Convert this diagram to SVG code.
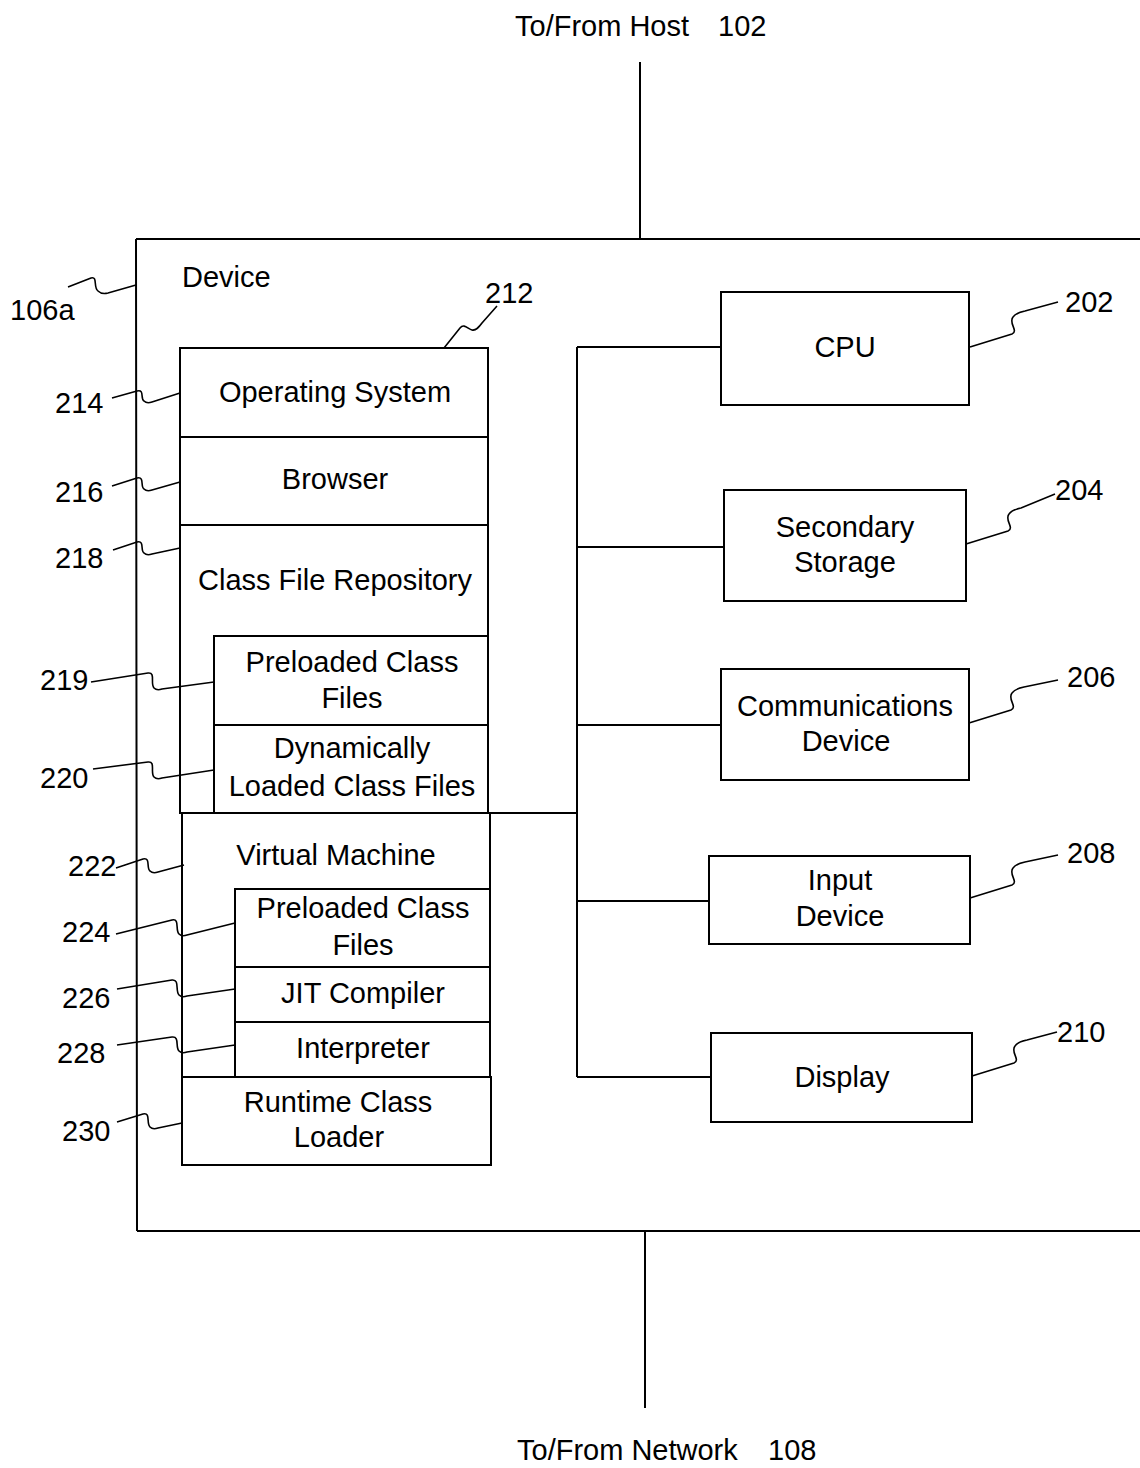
<svg xmlns="http://www.w3.org/2000/svg" width="1140" height="1468" viewBox="0 0 1140 1468">
<style>
text{font-family:"Liberation Sans",Arial,sans-serif;font-size:29px;fill:#000}
.c{text-anchor:middle}
.box{fill:none;stroke:#000;stroke-width:2}
.ln{fill:none;stroke:#000;stroke-width:2}
.ld{fill:none;stroke:#000;stroke-width:1.6}
</style>
<rect width="1140" height="1468" fill="#fff"/>

<g id="device">
<path class="ln" d="M136,239 L1140,239 M136,239 L137,1231 M137,1231 L1140,1231"/>
<text x="182" y="287">Device</text>
<text x="10" y="320">106a</text>
</g>

<g id="host-label"><text x="515" y="36">To/From Host</text><text x="718" y="36">102</text></g>
<g id="network-label"><text x="517" y="1460">To/From Network</text><text x="768" y="1460">108</text></g>

<g id="memory">
<text x="485" y="303">212</text>
</g>
<g id="os"><rect class="box" x="180" y="348" width="308" height="89"/><text class="c" x="335" y="402">Operating System</text><text x="55" y="413">214</text></g>
<g id="browser"><rect class="box" x="180" y="437" width="308" height="88"/><text class="c" x="335" y="489">Browser</text><text x="55" y="502">216</text></g>
<g id="class-file-repository"><rect class="box" x="180" y="525" width="308" height="288"/><text class="c" x="335" y="590">Class File Repository</text><text x="55" y="568">218</text></g>
<g id="preloaded-class-files-1"><rect class="box" x="214" y="636" width="274" height="89"/><text class="c" x="352" y="672">Preloaded Class</text><text class="c" x="352" y="708">Files</text><text x="40" y="690">219</text></g>
<g id="dynamic-class-files"><rect class="box" x="214" y="725" width="274" height="88"/><text class="c" x="352" y="758">Dynamically</text><text class="c" x="352" y="796">Loaded Class Files</text><text x="40" y="788">220</text></g>
<g id="virtual-machine"><rect class="box" x="182" y="813" width="308" height="264"/><text class="c" x="336" y="865">Virtual Machine</text><text x="68" y="876">222</text></g>
<g id="preloaded-class-files-2"><rect class="box" x="235" y="889" width="255" height="78"/><text class="c" x="363" y="918">Preloaded Class</text><text class="c" x="363" y="955">Files</text><text x="62" y="942">224</text></g>
<g id="jit-compiler"><rect class="box" x="235" y="967" width="255" height="55"/><text class="c" x="363" y="1003">JIT Compiler</text><text x="62" y="1008">226</text></g>
<g id="interpreter"><rect class="box" x="235" y="1022" width="255" height="55"/><text class="c" x="363" y="1058">Interpreter</text><text x="57" y="1063">228</text></g>
<g id="runtime-class-loader"><rect class="box" x="182" y="1077" width="309" height="88"/><text class="c" x="338" y="1112">Runtime Class</text><text class="c" x="339" y="1147">Loader</text><text x="62" y="1141">230</text></g>

<g id="cpu"><rect class="box" x="721" y="292" width="248" height="113"/><text class="c" x="845" y="357">CPU</text><text x="1065" y="312">202</text></g>
<g id="secondary-storage"><rect class="box" x="724" y="490" width="242" height="111"/><text class="c" x="845" y="537">Secondary</text><text class="c" x="845" y="572">Storage</text><text x="1055" y="500">204</text></g>
<g id="communications-device"><rect class="box" x="721" y="669" width="248" height="111"/><text class="c" x="845" y="716">Communications</text><text class="c" x="846" y="751">Device</text><text x="1067" y="687">206</text></g>
<g id="input-device"><rect class="box" x="709" y="856" width="261" height="88"/><text class="c" x="840" y="890">Input</text><text class="c" x="840" y="926">Device</text><text x="1067" y="863">208</text></g>
<g id="display"><rect class="box" x="711" y="1033" width="261" height="89"/><text class="c" x="842" y="1087">Display</text><text x="1057" y="1042">210</text></g>

<g id="connectors">
<path class="ln" d="M640,62 L640,239"/>
<path class="ln" d="M645,1231 L645,1408"/>
<path class="ln" d="M490,813 L577,813"/>
<path class="ln" d="M577,347 L577,1077"/>
<path class="ln" d="M577,347 L721,347"/>
<path class="ln" d="M577,547 L724,547"/>
<path class="ln" d="M577,725 L721,725"/>
<path class="ln" d="M577,901 L709,901"/>
<path class="ln" d="M577,1077 L711,1077"/>
</g>

<g id="leaders">
<path class="ld" d="M68,287 L91,278 C98,276 93,287 98,291 C101,294 104,294 108,293 L136,285"/>
<path class="ld" d="M444,348 L460,328 C464,323 468,329 472,330 C476,331 479,327 482,323 L497,306"/>
<path class="ld" d="M112,398 L137,391 C145,389 140,399 144,401 C146,403 149,403 152,402 L180,393"/>
<path class="ld" d="M112,486 L137,478 C145,476 140,487 144,489 C146,491 149,491 152,490 L180,482"/>
<path class="ld" d="M113,550 L137,542 C145,540 140,551 144,553 C146,555 149,555 152,554 L180,548"/>
<path class="ld" d="M91,682 L148,673 C156,672 150,684 154,688 C156,690 159,690 162,689 L214,682"/>
<path class="ld" d="M93,769 L148,762 C156,761 150,773 154,777 C156,779 159,779 162,778 L214,770"/>
<path class="ld" d="M116,868 L143,859 C151,857 146,868 150,871 C152,873 155,873 158,872 L184,865"/>
<path class="ld" d="M116,934 L172,920 C180,918 175,930 179,934 C181,936 184,936 187,935 L235,923"/>
<path class="ld" d="M117,989 L172,980 C180,979 175,991 179,995 C181,997 184,997 187,996 L235,989"/>
<path class="ld" d="M117,1045 L172,1037 C180,1036 175,1047 179,1051 C181,1053 184,1053 187,1052 L235,1045"/>
<path class="ld" d="M117,1122 L143,1114 C151,1112 146,1123 150,1127 C152,1129 155,1129 158,1128 L182,1123"/>
<path class="ld" d="M970,347 L1012,334 C1019,331 1008,323 1013,317 C1016,313 1020,312 1025,311 L1058,302"/>
<path class="ld" d="M966,544 L1008,531 C1015,528 1004,520 1009,514 C1012,510 1016,509 1021,508 L1055,494"/>
<path class="ld" d="M969,723 L1011,710 C1018,707 1007,699 1012,693 C1015,689 1019,688 1024,687 L1058,680"/>
<path class="ld" d="M970,898 L1012,885 C1019,882 1008,874 1013,868 C1016,864 1020,863 1025,862 L1058,855"/>
<path class="ld" d="M972,1076 L1014,1063 C1021,1060 1010,1052 1015,1046 C1018,1042 1022,1041 1027,1040 L1057,1032"/>
</g>
</svg>
